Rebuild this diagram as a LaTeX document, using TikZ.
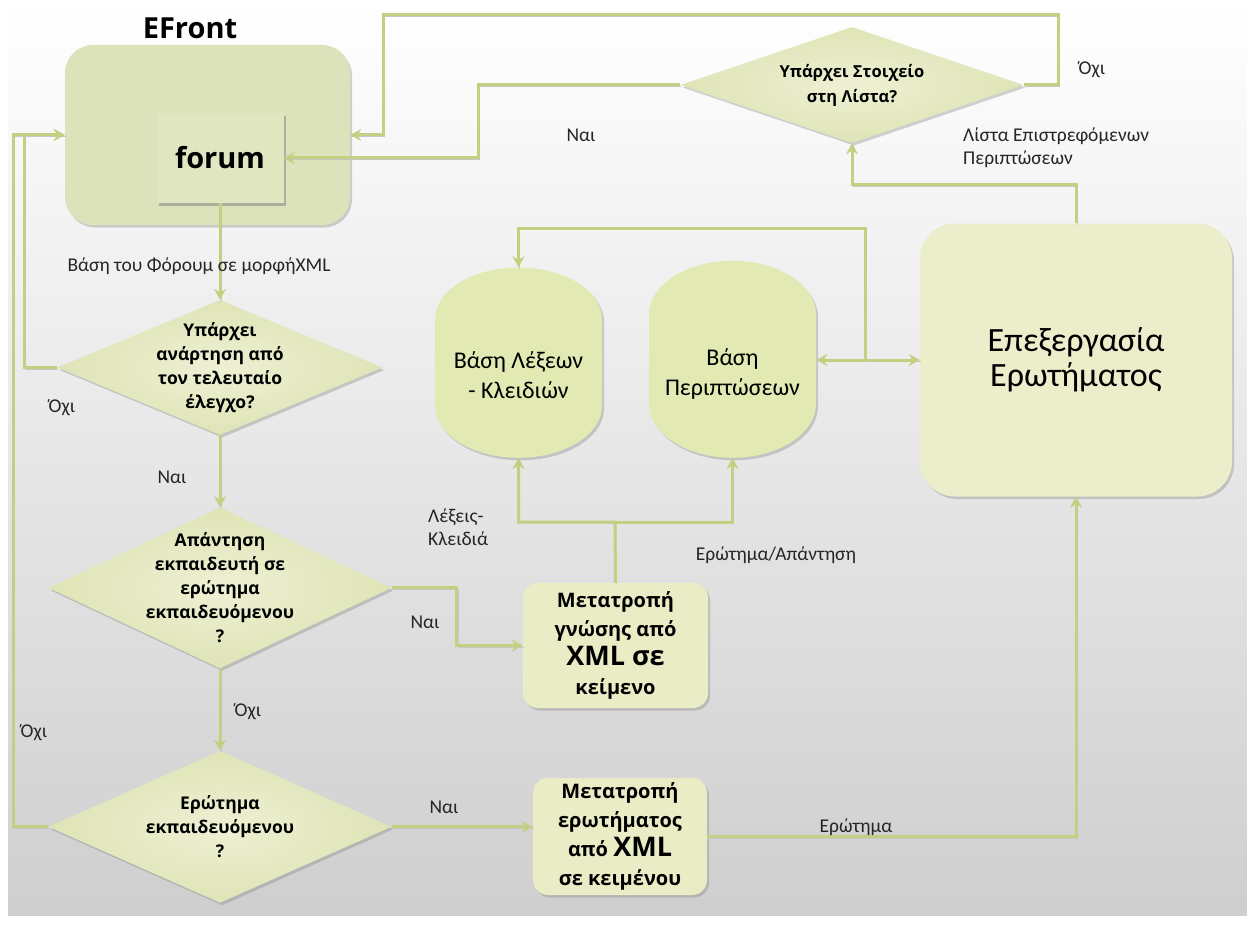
\documentclass[tikz,border=0pt]{standalone}
\usepackage{fontspec}
\setmainfont{Carlito}
\newfontfamily\gillfont{Open Sans}
\usepackage{xcolor}
\usetikzlibrary{positioning}
\usetikzlibrary{shapes.geometric}
\usetikzlibrary{arrows.meta}
\usetikzlibrary{shadows}

\definecolor{linkgreen}{HTML}{C4CF82}
\definecolor{efrontfill}{HTML}{DCE2B9}
\definecolor{forumfill}{HTML}{E0E6C0}
\definecolor{decfill}{HTML}{DFE4B6}
\definecolor{decinner}{HTML}{EEF0D3}
\definecolor{dbfill}{HTML}{E3E9B3}
\definecolor{procfill}{HTML}{ECEECB}
\definecolor{convfill}{HTML}{E9ECC4}

\newcommand{\xmlword}{\fontsize{27}{29}\selectfont XML}
% strut that pushes the database text up into the body
\newcommand{\dbstrut}{\rule[-28pt]{0pt}{28pt}}

\begin{document}
\begin{tikzpicture}[
		x=1pt, y=-1pt,
		% Style definitions for the flowchart
		softshadow/.style={drop shadow={opacity=0.35, shadow xshift=2pt, shadow yshift=-2.5pt}},
		outerbox/.style={fill=efrontfill, rounded corners=28pt, softshadow},
		innerbox/.style={fill=forumfill, drop shadow={opacity=0.5, shadow xshift=2pt, shadow yshift=-3pt}, font=\gillfont\bfseries\fontsize{29}{32}\selectfont},
		decision/.style={diamond, aspect=2.5, inner color=decinner, outer color=decfill, softshadow, inner sep=-16pt, align=center, font=\gillfont\bfseries\fontsize{17.5}{24}\selectfont},
		db/.style={cylinder, shape border rotate=90, aspect=0.8, inner xsep=0pt, inner ysep=-20pt, fill=dbfill, softshadow, minimum width=167pt, minimum height=160pt, align=center, font=\fontsize{24}{30}\selectfont},
		procbox/.style={fill=procfill, rounded corners=35pt, softshadow, minimum width=312pt, minimum height=273pt, align=center, font=\fontsize{34}{35}\selectfont},
		convbox/.style={fill=convfill, rounded corners=15pt, softshadow, inner sep=2pt, align=center, font=\gillfont\bfseries\fontsize{20}{29}\selectfont},
		lbl/.style={inner sep=0pt, text=black!85, font=\fontsize{19.5}{23}\selectfont},
		link/.style={draw=linkgreen, line width=3pt, -{Stealth[length=11pt, width=12pt]},
			preaction={draw=black!22, -, transform canvas={xshift=1pt, yshift=-1.5pt}}},
		twoway/.style={link, {Stealth[length=11pt, width=12pt]}-{Stealth[length=11pt, width=12pt]}},
		]
		% === Background ===
		\useasboundingbox (0,0) rectangle (1247,936);
		\shade[top color=white, bottom color=black!19] (8,0) rectangle (1247,915);

		% === EFront with forum ===
		\node[outerbox, minimum width=285pt, minimum height=180pt] (efront) at (207.5,135) {};
		\node[font=\gillfont\bfseries\fontsize{29}{32}\selectfont] (efronttitle) at (190,28) {EFront};
		\node[innerbox, minimum width=127pt, minimum height=90pt] (forum) at (220,158) {forum};

		% === Decisions (left column) ===
		\node[decision, minimum width=325pt, minimum height=135pt] (d1) at (220,367.5) {Υπάρχει\\ανάρτηση από\\τον τελευταίο\\έλεγχο?};
		\node[decision, minimum width=343pt, minimum height=161pt, below=72pt of d1] (d2) {Απάντηση\\εκπαιδευτή σε\\ερώτημα\\εκπαιδευόμενου\\?};
		\node[decision, minimum width=343pt, minimum height=152pt, below=82pt of d2] (d3) {Ερώτημα\\εκπαιδευόμενου\\?};

		% === Decision on the returned list (top) ===
		\node[decision, minimum width=343pt, minimum height=116pt, font=\gillfont\bfseries\fontsize{16.5}{25}\selectfont] (dlist) at (852,85) {Υπάρχει Στοιχείο\\στη Λίστα?};

		% === Databases ===
		\node[db, anchor=bottom] (kw) at (518.5,458) {Βάση Λέξεων\\- Κλειδιών\dbstrut};
		\node[db, anchor=bottom] (cases) at (732.5,458) {Βάση\\Περιπτώσεων\dbstrut};

		% === Query processing ===
		\node[procbox] (proc) at (1076,360) {Επεξεργασία\\Ερωτήματος};

		% === Conversions ===
		\node[convbox, minimum width=185pt, minimum height=125pt] (conv1) at (615.5,645.5) {Μετατροπή\\γνώσης από\\\xmlword{} σε\\κείμενο};
		\node[convbox, minimum width=174pt, minimum height=117pt] (conv2) at (620,836.5) {Μετατροπή\\ερωτήματος\\από \xmlword\\σε κειμένου};

		% === Bend points ===
		\coordinate (topright) at (1058,15);
		\coordinate (topleft) at (383,15);
		\coordinate (kwsplit) at (615,522);
		\coordinate (kwjoin) at (865,360);
		\coordinate (kwtop) at (865,228);

		% === Connectors ===
		\draw[link] (d1.west) -- ++(-33,0) |- (efront.west);
		\draw[link] (d3.west) -- ++(-35,0) |- (efront.west);
		\draw[link] (dlist.east) -| (topright) -- (topleft) |- (efront.east);
		\draw[link] (dlist.west) -- ++(-202,0) |- (forum.east);
		\draw[link] (proc.north) -- ++(0,-39) -| (dlist.south);
		\draw[link] (forum.south) -- (d1.north);
		\draw[link] (d1.south) -- (d2.north);
		\draw[link] (d2.south) -- (d3.north);
		\draw[link] (d2.east) -- ++(65,0) |- (conv1.west);
		\draw[link] (d3.east) -- (d3.east -| conv2.west);
		\draw[link] (conv2.east) -| (proc.south);
		\draw[link] (conv1.north) -- (kwsplit) -| (kw.south);
		\draw[link] (kwsplit) -| (cases.south);
		\draw[twoway] (cases.east |- kwjoin) -- (proc.west);
		\draw[link] (kwjoin) -- (kwtop) -| (kw.north);

		% === Connector labels ===
		\node[lbl] (lforum) at (199,266) {Βάση του Φόρουμ σε μορφήXML};
		\node[lbl] (lyes1) at (581,135) {Ναι};
		\node[lbl] (lno1) at (1092,70) {Όχι};
		\node[lbl, align=left, anchor=west] (llist) at (963,148) {Λίστα Επιστρεφόμενων\\Περιπτώσεων};
		\node[lbl] (lno2) at (62,408) {Όχι};
		\node[lbl] (lyes2) at (172,477) {Ναι};
		\node[lbl] (lno3) at (248,712) {Όχι};
		\node[lbl] (lno4) at (34,733) {Όχι};
		\node[lbl] (lyes3) at (425,622) {Ναι};
		\node[lbl] (lyes4) at (444,807) {Ναι};
		\node[lbl] (lquest) at (856,827) {Ερώτημα};
		\node[lbl, align=left, anchor=west] (lkeys) at (428,527) {Λέξεις-\\Κλειδιά};
		\node[lbl] (lqa) at (776,555) {Ερώτημα/Απάντηση};

	\end{tikzpicture}
\end{document}
